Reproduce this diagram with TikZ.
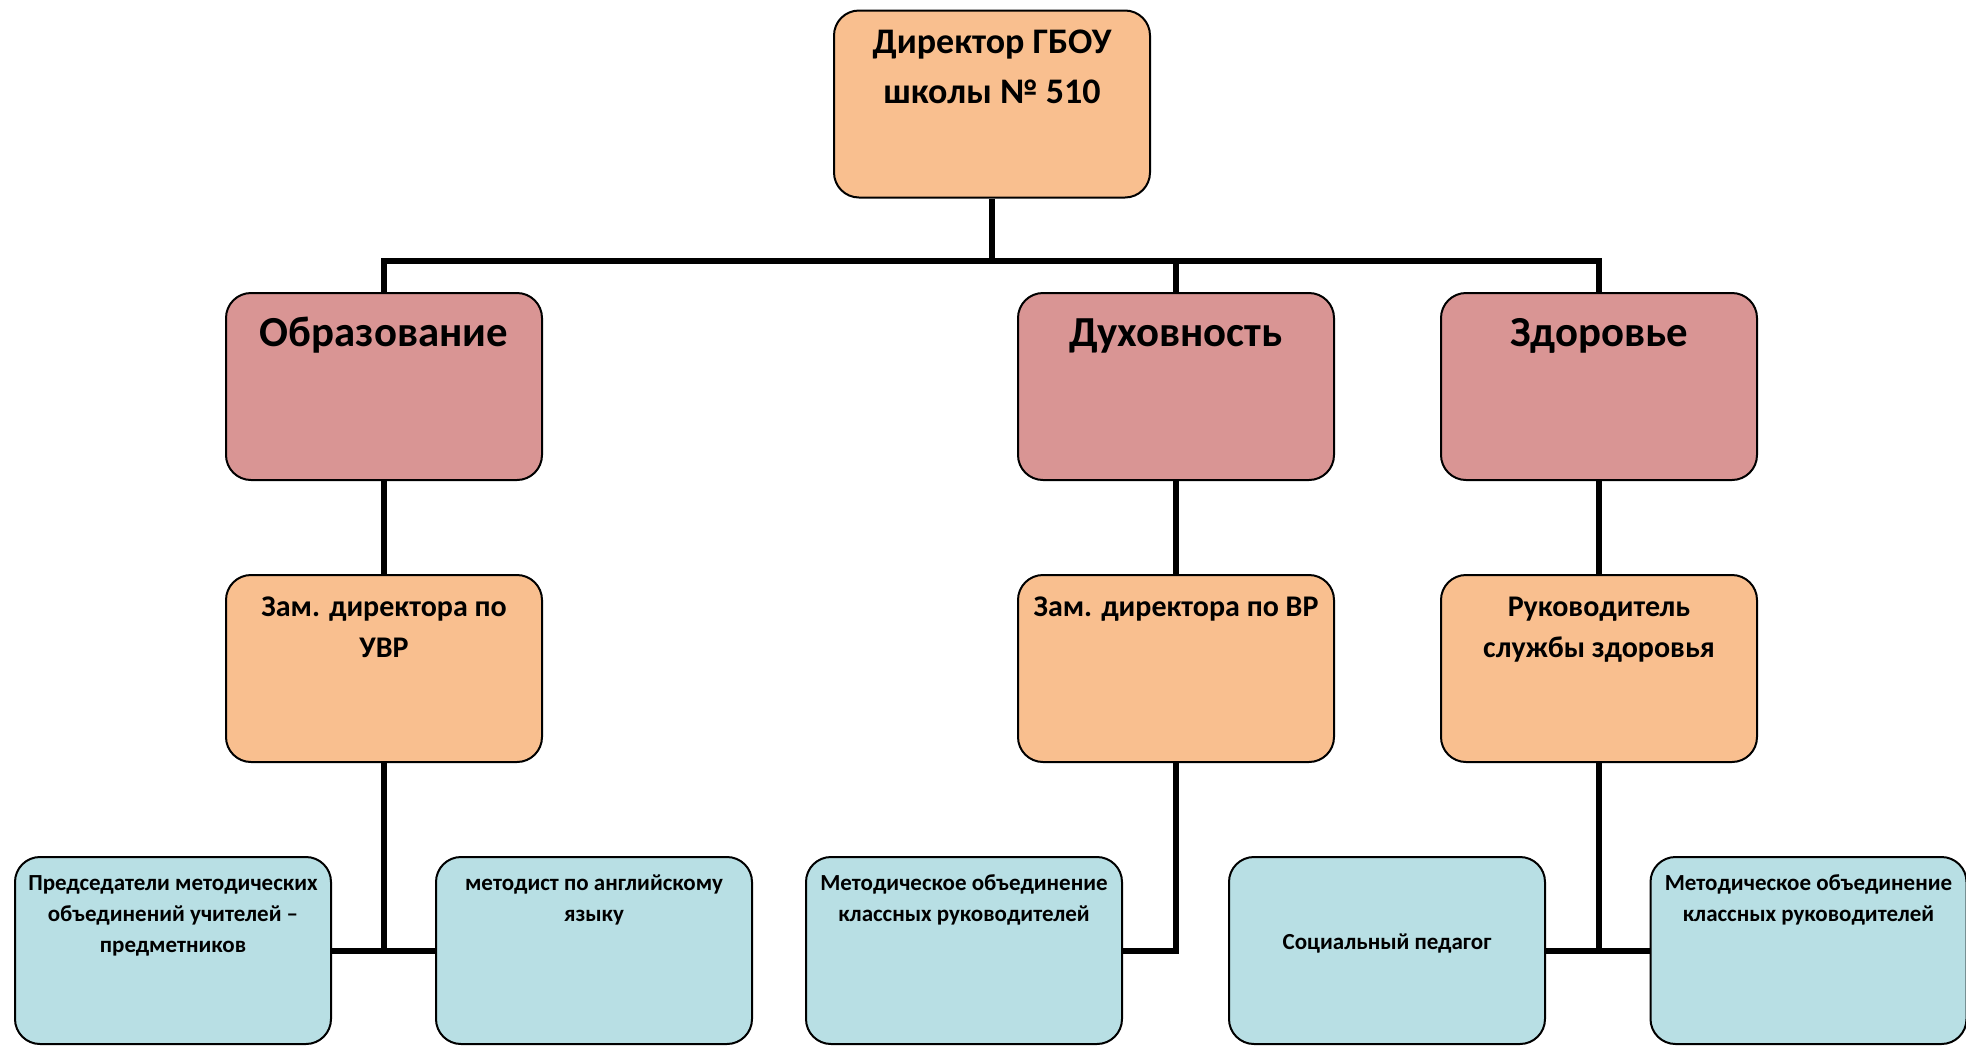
\documentclass[tikz,border=0pt]{standalone}
\usepackage{fontspec}
\setmainfont{Carlito}
\definecolor{peachc}{HTML}{F9BF8F}
\definecolor{pinkc}{HTML}{D99594}
\definecolor{bluec}{HTML}{B8DFE4}
\newcommand{\bt}[4]{\parbox[t][93.5pt][t]{156pt}{\fontsize{#1}{#2}\selectfont\bfseries\centering\rule{0pt}{#3}#4\par}}
\begin{document}
\begin{tikzpicture}[x=0.5pt,y=-0.5pt,
  box/.style={draw=black, line width=1pt, rounded corners=12.5pt, inner sep=0pt,
              minimum width=158pt, minimum height=93.5pt},
  peach/.style={box, fill=peachc},
  pinkbox/.style={box, fill=pinkc},
  bluebox/.style={box, fill=bluec},
  conn/.style={line width=3pt}]
\useasboundingbox (0,0) rectangle (1966,1045);
% level 1
\node[peach] (dir) at (992,104) {\bt{18pt}{25pt}{21.5pt}{Директор ГБОУ\\школы № 510}};
% level 2
\node[pinkbox] (obr) at (384,386.5) {\bt{21.4pt}{25pt}{26.5pt}{Образование}};
\node[pinkbox] (dukh) at (1176,386.5) {\bt{21.4pt}{25pt}{26.5pt}{Духовность}};
\node[pinkbox] (zdr) at (1599,386.5) {\bt{21.4pt}{25pt}{26.5pt}{Здоровье}};
% level 3
\node[peach] (zuvr) at (384,668.5) {\bt{15pt}{20.8pt}{20.5pt}{Зам. директора по\\УВР}};
\node[peach] (zvr) at (1176,668.5) {\bt{15pt}{20.8pt}{20.5pt}{Зам. директора по ВР}};
\node[peach] (rsz) at (1599,668.5) {\bt{15pt}{20.8pt}{20.5pt}{Руководитель\\службы здоровья}};
% level 4
\node[bluebox] (p1) at (173,950.5) {\bt{11.5pt}{15.7pt}{16.5pt}{Председатели методических\\объединений учителей –\\предметников}};
\node[bluebox] (p2) at (594,950.5) {\bt{11.5pt}{15.7pt}{16.5pt}{методист по английскому\\языку}};
\node[bluebox] (p3) at (964,950.5) {\bt{11.5pt}{15.7pt}{16.5pt}{Методическое объединение\\классных руководителей}};
\node[bluebox] (p4) at (1387,950.5) {\bt{11.5pt}{15.7pt}{46pt}{Социальный педагог}};
\node[bluebox] (p5) at (1808.5,950.5) {\bt{11.5pt}{15.7pt}{16.5pt}{Методическое объединение\\классных руководителей}};
% connectors
\coordinate (bus) at (992,261);
\draw[conn] (dir.south) -- (dir.south |- bus);
\draw[conn] (obr.north) -- (obr.north |- bus) -- (zdr.north |- bus) -- (zdr.north);
\draw[conn] (dukh.north) -- (dukh.north |- bus);
\draw[conn] (obr.south) -- (zuvr.north);
\draw[conn] (dukh.south) -- (zvr.north);
\draw[conn] (zdr.south) -- (rsz.north);
\draw[conn] (zuvr.south) -- (zuvr.south |- p1.east);
\draw[conn] (p1.east) -- (p2.west);
\draw[conn] (zvr.south) |- (p3.east);
\draw[conn] (rsz.south) -- (rsz.south |- p4.east);
\draw[conn] (p4.east) -- (p5.west);
\end{tikzpicture}
\end{document}
